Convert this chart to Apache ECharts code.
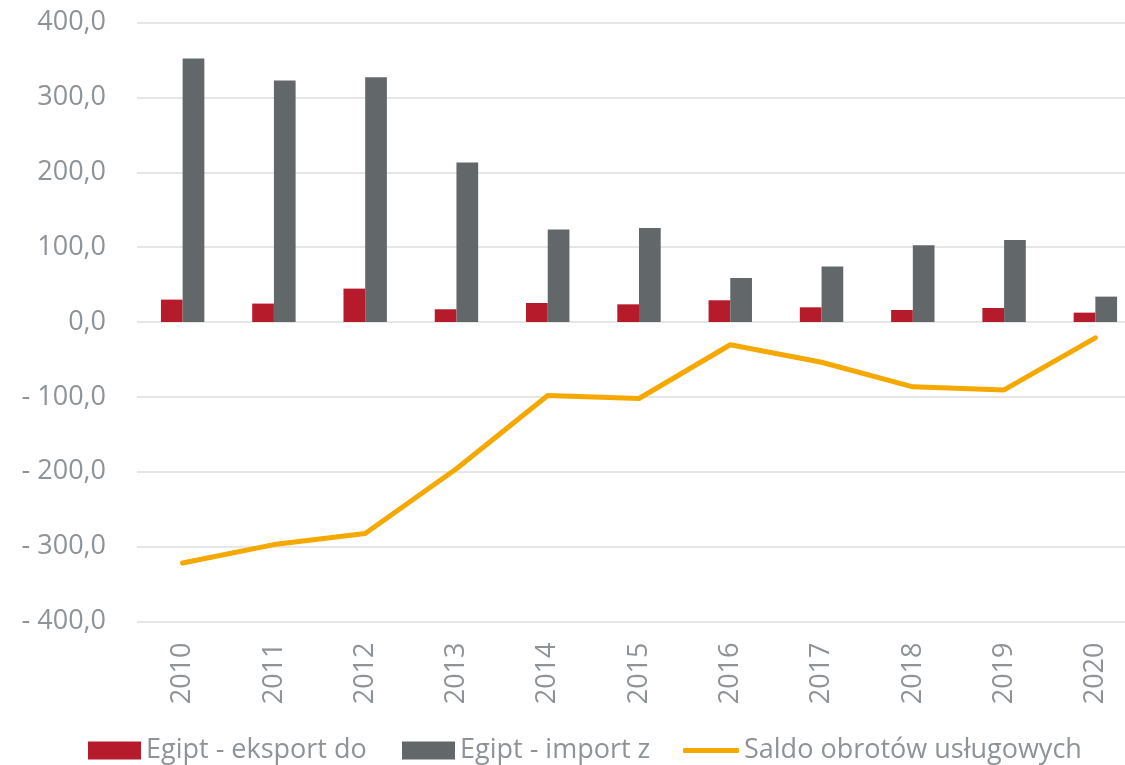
<!DOCTYPE html>
<html>
<head>
<meta charset="utf-8">
<title>Egipt - obroty usługowe</title>
<script src="https://cdn.jsdelivr.net/npm/echarts@6/dist/echarts.min.js"></script>
<style>
  html, body { margin: 0; padding: 0; background: #ffffff; }
  #chart { width: 1125px; height: 765px; }
</style>
</head>
<body>
<div id="chart"></div>
<script>
// Years on the category axis
const years = ['2010', '2011', '2012', '2013', '2014', '2015', '2016', '2017', '2018', '2019', '2020'];

// Services trade with Egypt
const eksport = [29.9, 24.6, 44.6, 17.0, 25.4, 23.6, 29.0, 19.6, 16.0, 18.7, 12.5];
const importZ = [351.9, 322.5, 326.9, 212.9, 123.4, 125.6, 58.8, 74.0, 102.5, 109.6, 33.9];
const saldo = [-321.8, -297.3, -282.5, -195.9, -98.2, -102.2, -30.4, -53.8, -86.6, -90.7, -21.2];

// Value axis ticks
const yTicks = [-400, -300, -200, -100, 0, 100, 200, 300, 400];

const names = ['Egipt - eksport do', 'Egipt - import z', 'Saldo obrotów usługowych'];
const colors = { eksport: '#B51B2B', import: '#626769', saldo: '#F5A800' };
const textGray = '#8E9397';
const font = '"Open Sans", "Noto Sans", sans-serif';

function fmt(v) {
  const s = Math.abs(v).toFixed(1).replace('.', ',');
  return v < 0 ? '- ' + s : s;
}

const legendBase = {
  orient: 'horizontal',
  top: 737,
  itemWidth: 53,
  itemHeight: 18,
  padding: 0,
  textStyle: { color: textGray, fontSize: 27, fontFamily: font }
};

const chart = echarts.init(document.getElementById('chart'), null, { renderer: 'canvas' });
chart.setOption({
  animation: false,
  backgroundColor: '#ffffff',
  grid: {
    left: 137, top: 22.5, width: 1004, height: 599,
    containLabel: false,
    outerBoundsMode: 'none'
  },
  legend: [
    Object.assign({}, legendBase, { left: 88, data: [{ name: names[0], icon: 'rect' }] }),
    Object.assign({}, legendBase, { left: 402, data: [{ name: names[1], icon: 'rect' }] }),
    Object.assign({}, legendBase, {
      left: 683, itemWidth: 56, itemHeight: 5,
      data: [{ name: names[2], icon: 'roundRect' }]
    })
  ],
  xAxis: {
    type: 'category',
    data: years,
    axisLine: { show: false },
    axisTick: { show: false },
    axisLabel: {
      rotate: 90,
      margin: 21,
      color: textGray,
      fontSize: 27,
      fontFamily: font
    }
  },
  yAxis: {
    type: 'value',
    min: yTicks[0],
    max: yTicks[yTicks.length - 1],
    interval: 100,
    axisLine: { show: false },
    axisTick: { show: false },
    splitLine: { lineStyle: { color: '#E6E6E6', width: 2 } },
    axisLabel: {
      margin: 31,
      color: textGray,
      fontSize: 27,
      fontFamily: font,
      formatter: fmt
    }
  },
  series: [
    {
      name: names[0],
      type: 'bar',
      data: eksport,
      barWidth: 21.7,
      barGap: '0%',
      itemStyle: { color: colors.eksport }
    },
    {
      name: names[1],
      type: 'bar',
      data: importZ,
      barWidth: 21.7,
      itemStyle: { color: colors.import }
    },
    {
      name: names[2],
      type: 'line',
      data: saldo,
      symbol: 'none',
      z: 5,
      lineStyle: { color: colors.saldo, width: 5, cap: 'round', join: 'round' },
      itemStyle: { color: colors.saldo }
    }
  ]
});
</script>
</body>
</html>
